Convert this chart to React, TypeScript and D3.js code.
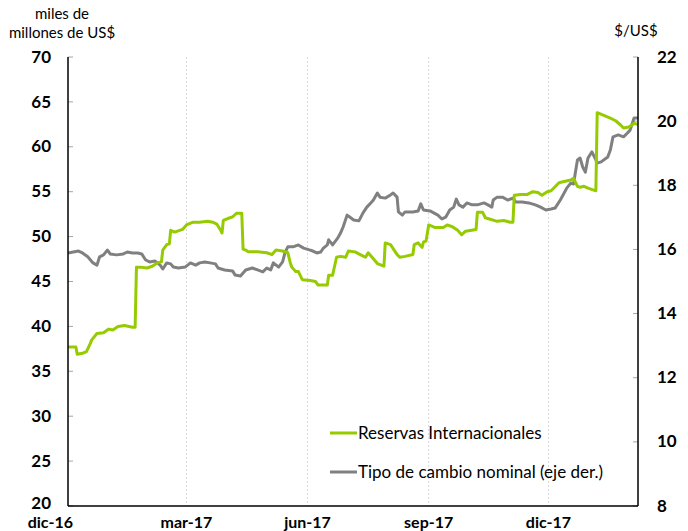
import * as d3 from "d3";

// Reservas Internacionales (miles de millones de US$), eje izquierdo
const reservas: [string, number][] = [
  ["2016-12-01", 37.7], ["2016-12-07", 37.7], ["2016-12-08", 36.9], ["2016-12-12", 37.0],
  ["2016-12-15", 37.2], ["2016-12-18", 38.1], ["2016-12-19", 38.5], ["2016-12-23", 39.2],
  ["2016-12-28", 39.3], ["2017-01-01", 39.7], ["2017-01-04", 39.6], ["2017-01-08", 40.0],
  ["2017-01-13", 40.1], ["2017-01-19", 39.9], ["2017-01-21", 39.9], ["2017-01-22", 46.6],
  ["2017-01-25", 46.6], ["2017-01-30", 46.5], ["2017-02-03", 46.7], ["2017-02-07", 47.1],
  ["2017-02-10", 47.2], ["2017-02-11", 48.5], ["2017-02-14", 49.1], ["2017-02-16", 49.2],
  ["2017-02-17", 50.7], ["2017-02-20", 50.5], ["2017-02-26", 50.8], ["2017-03-01", 51.3],
  ["2017-03-06", 51.6], ["2017-03-11", 51.6], ["2017-03-17", 51.7], ["2017-03-21", 51.6],
  ["2017-03-24", 51.4], ["2017-03-27", 50.7], ["2017-03-28", 50.4], ["2017-03-29", 51.8],
  ["2017-04-03", 52.1], ["2017-04-05", 52.2], ["2017-04-08", 52.6], ["2017-04-12", 52.6],
  ["2017-04-13", 48.6], ["2017-04-15", 48.5], ["2017-04-17", 48.3], ["2017-04-24", 48.3],
  ["2017-05-01", 48.2], ["2017-05-05", 48.0], ["2017-05-08", 48.5], ["2017-05-13", 48.4],
  ["2017-05-17", 48.2], ["2017-05-19", 47.0], ["2017-05-20", 46.6], ["2017-05-23", 46.1],
  ["2017-05-25", 46.1], ["2017-05-28", 45.2], ["2017-06-03", 45.1], ["2017-06-07", 45.0],
  ["2017-06-09", 44.6], ["2017-06-16", 44.6], ["2017-06-17", 45.7], ["2017-06-20", 45.7],
  ["2017-06-23", 47.7], ["2017-06-26", 47.8], ["2017-06-30", 47.7], ["2017-07-02", 48.4],
  ["2017-07-07", 48.3], ["2017-07-11", 48.0], ["2017-07-15", 47.7], ["2017-07-17", 48.2],
  ["2017-07-20", 47.7], ["2017-07-24", 47.0], ["2017-07-29", 46.7], ["2017-07-30", 49.3],
  ["2017-08-03", 49.1], ["2017-08-08", 48.0], ["2017-08-10", 47.7], ["2017-08-14", 47.8],
  ["2017-08-20", 48.0], ["2017-08-21", 49.1], ["2017-08-24", 49.3], ["2017-08-27", 48.8],
  ["2017-08-28", 49.4], ["2017-08-30", 49.5], ["2017-09-01", 51.3], ["2017-09-06", 51.0],
  ["2017-09-12", 51.0], ["2017-09-15", 51.3], ["2017-09-19", 51.1], ["2017-09-23", 50.7],
  ["2017-09-26", 50.2], ["2017-09-29", 50.6], ["2017-10-07", 50.8], ["2017-10-08", 52.7],
  ["2017-10-12", 52.7], ["2017-10-14", 52.1], ["2017-10-23", 51.7], ["2017-10-28", 51.8],
  ["2017-11-02", 51.6], ["2017-11-04", 51.6], ["2017-11-05", 54.6], ["2017-11-10", 54.7],
  ["2017-11-15", 54.7], ["2017-11-19", 55.0], ["2017-11-23", 54.9], ["2017-11-26", 54.6],
  ["2017-11-30", 55.0], ["2017-12-03", 55.1], ["2017-12-09", 56.0], ["2017-12-12", 56.1],
  ["2017-12-18", 56.3], ["2017-12-20", 56.5], ["2017-12-23", 55.6], ["2017-12-25", 55.5],
  ["2017-12-28", 55.6], ["2017-12-31", 55.4], ["2018-01-06", 55.1], ["2018-01-07", 63.8],
  ["2018-01-12", 63.5], ["2018-01-17", 63.2], ["2018-01-21", 62.9], ["2018-01-25", 62.4],
  ["2018-01-27", 62.1], ["2018-01-31", 62.2], ["2018-02-04", 62.6], ["2018-02-07", 62.5],
];

// Tipo de cambio nominal ($/US$), eje derecho
const tipoCambio: [string, number][] = [
  ["2016-12-01", 15.89], ["2016-12-05", 15.92], ["2016-12-09", 15.95], ["2016-12-12", 15.89],
  ["2016-12-16", 15.77], ["2016-12-20", 15.58], ["2016-12-23", 15.51], ["2016-12-25", 15.77],
  ["2016-12-28", 15.83], ["2016-12-31", 15.98], ["2017-01-02", 15.86], ["2017-01-07", 15.83],
  ["2017-01-12", 15.86], ["2017-01-15", 15.92], ["2017-01-19", 15.89], ["2017-01-23", 15.89],
  ["2017-01-26", 15.86], ["2017-01-29", 15.67], ["2017-02-01", 15.61], ["2017-02-05", 15.64],
  ["2017-02-09", 15.51], ["2017-02-11", 15.39], ["2017-02-14", 15.58], ["2017-02-17", 15.55],
  ["2017-02-19", 15.45], ["2017-02-23", 15.42], ["2017-02-28", 15.45], ["2017-03-04", 15.58],
  ["2017-03-08", 15.51], ["2017-03-11", 15.58], ["2017-03-15", 15.61], ["2017-03-19", 15.58],
  ["2017-03-23", 15.55], ["2017-03-25", 15.42], ["2017-03-30", 15.36], ["2017-04-05", 15.33],
  ["2017-04-07", 15.2], ["2017-04-11", 15.17], ["2017-04-15", 15.36], ["2017-04-20", 15.42],
  ["2017-04-24", 15.36], ["2017-04-28", 15.3], ["2017-05-01", 15.42], ["2017-05-04", 15.36],
  ["2017-05-06", 15.58], ["2017-05-10", 15.45], ["2017-05-13", 15.61], ["2017-05-15", 15.92],
  ["2017-05-17", 16.08], ["2017-05-21", 16.08], ["2017-05-25", 16.14], ["2017-05-29", 16.04],
  ["2017-06-03", 15.98], ["2017-06-05", 15.95], ["2017-06-08", 15.89], ["2017-06-11", 15.92],
  ["2017-06-13", 16.04], ["2017-06-16", 16.14], ["2017-06-17", 16.3], ["2017-06-20", 16.14],
  ["2017-06-24", 16.36], ["2017-06-26", 16.51], ["2017-06-28", 16.7], ["2017-07-01", 17.07],
  ["2017-07-03", 17.01], ["2017-07-06", 16.92], ["2017-07-10", 16.89], ["2017-07-13", 17.13],
  ["2017-07-16", 17.32], ["2017-07-19", 17.45], ["2017-07-21", 17.54], ["2017-07-24", 17.76],
  ["2017-07-26", 17.63], ["2017-07-30", 17.6], ["2017-08-03", 17.7], ["2017-08-05", 17.76],
  ["2017-08-08", 17.63], ["2017-08-09", 17.17], ["2017-08-12", 17.07], ["2017-08-14", 17.17],
  ["2017-08-20", 17.17], ["2017-08-24", 17.2], ["2017-08-26", 17.42], ["2017-08-28", 17.23],
  ["2017-09-02", 17.2], ["2017-09-08", 17.07], ["2017-09-11", 16.95], ["2017-09-14", 17.01],
  ["2017-09-17", 17.23], ["2017-09-20", 17.32], ["2017-09-22", 17.57], ["2017-09-24", 17.39],
  ["2017-09-27", 17.32], ["2017-09-30", 17.45], ["2017-10-04", 17.39], ["2017-10-08", 17.39],
  ["2017-10-13", 17.45], ["2017-10-16", 17.39], ["2017-10-19", 17.32], ["2017-10-20", 17.54],
  ["2017-10-23", 17.63], ["2017-10-27", 17.63], ["2017-10-31", 17.54], ["2017-11-04", 17.6],
  ["2017-11-06", 17.48], ["2017-11-11", 17.48], ["2017-11-16", 17.45], ["2017-11-21", 17.39],
  ["2017-11-25", 17.32], ["2017-11-29", 17.23], ["2017-12-03", 17.26], ["2017-12-06", 17.29],
  ["2017-12-10", 17.54], ["2017-12-15", 17.92], ["2017-12-18", 18.07], ["2017-12-20", 18.04],
  ["2017-12-23", 18.79], ["2017-12-25", 18.85], ["2017-12-27", 18.57], ["2017-12-29", 18.41],
  ["2017-12-31", 18.85], ["2018-01-03", 19.04], ["2018-01-06", 18.79], ["2018-01-07", 18.69],
  ["2018-01-10", 18.73], ["2018-01-15", 18.88], ["2018-01-17", 19.1], ["2018-01-19", 19.51],
  ["2018-01-23", 19.57], ["2018-01-27", 19.51], ["2018-01-30", 19.63], ["2018-02-01", 19.72],
  ["2018-02-04", 20.1], ["2018-02-07", 20.1],
];

const leftTicks = [20, 25, 30, 35, 40, 45, 50, 55, 60, 65, 70];
const rightTicks = [8, 10, 12, 14, 16, 18, 20, 22];
const xTicks = ["2016-12-01", "2017-03-01", "2017-06-01", "2017-09-01", "2017-12-01"];
const mesesEs = ["ene", "feb", "mar", "abr", "may", "jun", "jul", "ago", "sep", "oct", "nov", "dic"];
const legendItems = [
  { label: "Reservas Internacionales", color: "#95cb00" },
  { label: "Tipo de cambio nominal (eje der.)", color: "#808080" },
];

const W = 688;
const H = 531;
const margin = { top: 57, right: 50, bottom: 25, left: 68 };
const FONT = "Lato, 'Open Sans', sans-serif";

const parse = d3.utcParse("%Y-%m-%d");
const fmtLabel = (d: Date) => `${mesesEs[d.getUTCMonth()]}-${String(d.getUTCFullYear()).slice(2)}`;

export default function App() {
  const x = d3
    .scaleUtc()
    .domain([parse("2016-12-01")!, parse("2018-02-07")!])
    .range([margin.left, W - margin.right]);
  const yL = d3.scaleLinear().domain([20, 70]).range([H - margin.bottom, margin.top]);
  const yR = d3.scaleLinear().domain([8, 22]).range([H - margin.bottom, margin.top]);

  const lineL = d3
    .line<[string, number]>()
    .x((d) => x(parse(d[0])!))
    .y((d) => yL(d[1]));
  const lineR = d3
    .line<[string, number]>()
    .x((d) => x(parse(d[0])!))
    .y((d) => yR(d[1]));

  const x0 = margin.left;
  const x1 = W - margin.right;
  const yTop = margin.top;
  const yBot = H - margin.bottom;

  return (
    <svg
      width={W}
      height={H}
      style={{ position: "absolute", left: 0, top: 0, background: "#fff" }}
      fontFamily={FONT}
    >
      {/* vertical gridlines */}
      {xTicks.slice(1).map((t) => (
        <line
          key={t}
          x1={x(parse(t)!)}
          x2={x(parse(t)!)}
          y1={yTop}
          y2={yBot}
          stroke="#d9d9d9"
          strokeWidth={1}
          strokeDasharray="2,2"
        />
      ))}

      {/* left tick marks and labels */}
      {leftTicks.map((t) => (
        <g key={"l" + t}>
          <line x1={x0} x2={x0 + 5} y1={yL(t)} y2={yL(t)} stroke="#a6a6a6" />
          <text
            x={x0 - 17}
            y={t === 20 ? yL(t) - 3 : yL(t)}
            dy="0.33em"
            textAnchor="end"
            fontSize={17}
            fontWeight="bold"
          >
            {t}
          </text>
        </g>
      ))}

      {/* right tick marks and labels */}
      {rightTicks.map((t) => (
        <g key={"r" + t}>
          <line x1={x1 - 5} x2={x1} y1={yR(t)} y2={yR(t)} stroke="#a6a6a6" />
          <text x={x1 + 19} y={yR(t)} dy="0.33em" textAnchor="start" fontSize={17} fontWeight="bold">
            {t}
          </text>
        </g>
      ))}

      {/* x labels */}
      {xTicks.map((t, i) => (
        <text
          key={"x" + t}
          x={i === 0 ? x(parse(t)!) + 5 : x(parse(t)!)}
          y={yBot + 21.5}
          textAnchor={i === 0 ? "end" : "middle"}
          fontSize={16}
          fontWeight="bold"
        >
          {fmtLabel(parse(t)!)}
        </text>
      ))}

      {/* series */}
      <path d={lineR(tipoCambio) ?? ""} fill="none" stroke="#808080" strokeWidth={3} strokeLinejoin="round" />
      <path d={lineL(reservas) ?? ""} fill="none" stroke="#95cb00" strokeWidth={3} strokeLinejoin="round" />

      {/* axes lines */}
      <line x1={x0} x2={x0} y1={yTop} y2={yBot} stroke="#000" strokeWidth={1.5} />
      <line x1={x1} x2={x1} y1={yTop} y2={yBot} stroke="#000" strokeWidth={1.5} />
      <line x1={x0} x2={x1} y1={yBot} y2={yBot} stroke="#000" strokeWidth={1.5} />

      {/* axis titles */}
      <text x={62} y={19} textAnchor="middle" fontSize={15}>
        miles de
      </text>
      <text x={62} y={38} textAnchor="middle" fontSize={15}>
        millones de US$
      </text>
      <text x={636} y={36} textAnchor="middle" fontSize={15}>
        $/US$
      </text>

      {/* legend */}
      {legendItems.map((d, i) => (
        <g key={d.label} transform={`translate(330,${433 + i * 39})`}>
          <line x1={0} x2={27} y1={0} y2={0} stroke={d.color} strokeWidth={3} />
          <text x={28} y={0} dy="0.35em" fontSize={17}>
            {d.label}
          </text>
        </g>
      ))}
    </svg>
  );
}
